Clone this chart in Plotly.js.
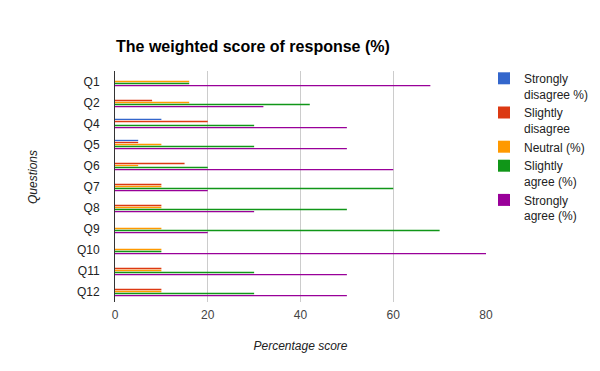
<!DOCTYPE html>
<html>
<head>
<meta charset="utf-8">
<script src="https://cdn.plot.ly/plotly-3.0.1.min.js"></script>
<style>html,body{margin:0;padding:0;background:#fff}#chart{width:600px;height:371px}</style>
</head>
<body>
<div id="chart"></div>
<script>
const questions = ["Q1","Q2","Q4","Q5","Q6","Q7","Q8","Q9","Q10","Q11","Q12"];
const seriesNames = ["Strongly<br>disagree %)","Slightly<br>disagree","Neutral (%)","Slightly<br>agree (%)","Strongly<br>agree (%)"];
const stronglyDisagree = [0, 0, 10, 5, 0, 0, 0, 0, 0, 0, 0];
const slightlyDisagree = [0, 8, 20, 5, 15, 10, 10, 0, 0, 10, 10];
const neutral          = [16, 16, 0, 10, 5, 10, 10, 10, 10, 10, 10];
const slightlyAgree    = [16, 42, 30, 30, 20, 60, 50, 70, 10, 30, 30];
const stronglyAgree    = [68, 32, 50, 50, 60, 20, 30, 20, 80, 50, 50];
const colors = ["#3366cc","#dc3912","#ff9900","#109618","#990099"];
const allSeries = [stronglyDisagree, slightlyDisagree, neutral, slightlyAgree, stronglyAgree];

const traces = allSeries.map((vals, i) => ({
  type: "bar",
  orientation: "h",
  name: seriesNames[i],
  x: vals,
  y: questions,
  marker: {color: colors[i], line: {width: 0}},
  hoverinfo: "x+name"
}));

const plotW = 600 - 115 - 114;
const plotH = 371 - 71 - 69;

const layout = {
  width: 600, height: 371,
  margin: {l: 115, r: 114, t: 71, b: 69, autoexpand: false},
  paper_bgcolor: "#fff", plot_bgcolor: "#fff",
  font: {family: "Arial, 'Liberation Sans', sans-serif", size: 12, color: "#222"},
  title: {text: "<b>The weighted score of response (%)</b>", x: 116/600, xanchor: "left", y: 1 - 46/371, yanchor: "middle",
          font: {size: 16, color: "#000"}},
  barmode: "group",
  bargap: 0.52,
  bargroupgap: 0.35,
  xaxis: {
    range: [0, 80], dtick: 20, showgrid: true, gridcolor: "#cccccc", gridwidth: 1,
    zeroline: false, showline: false, ticks: "",
    tickfont: {size: 12, color: "#444"}, ticklabelstandoff: 4,
    title: {text: "<i>Percentage score</i>", font: {size: 12, color: "#222"}, standoff: 20}
  },
  yaxis: {
    autorange: "reversed", type: "category", showgrid: false, zeroline: false,
    showline: true, linecolor: "#333", linewidth: 1, ticks: "",
    tickfont: {size: 12, color: "#222"}, ticklabelstandoff: 12
  },
  legend: {
    x: (484 - 115) / plotW, xanchor: "left", y: 1 + 7/plotH, yanchor: "top",
    font: {size: 12, color: "#222"}, tracegroupgap: 5, itemwidth: 30, valign: "top",
    bgcolor: "rgba(0,0,0,0)", traceorder: "normal"
  },
  annotations: [{
    text: "<i>Questions</i>", textangle: -90, xref: "paper", yref: "paper",
    x: -82/plotW, y: 1 - (177-71)/plotH, xanchor: "center", yanchor: "middle",
    showarrow: false, font: {size: 12, color: "#222"}
  }],
  showlegend: true
};

Plotly.newPlot("chart", traces, layout, {displayModeBar: false, staticPlot: true});
</script>
</body>
</html>
